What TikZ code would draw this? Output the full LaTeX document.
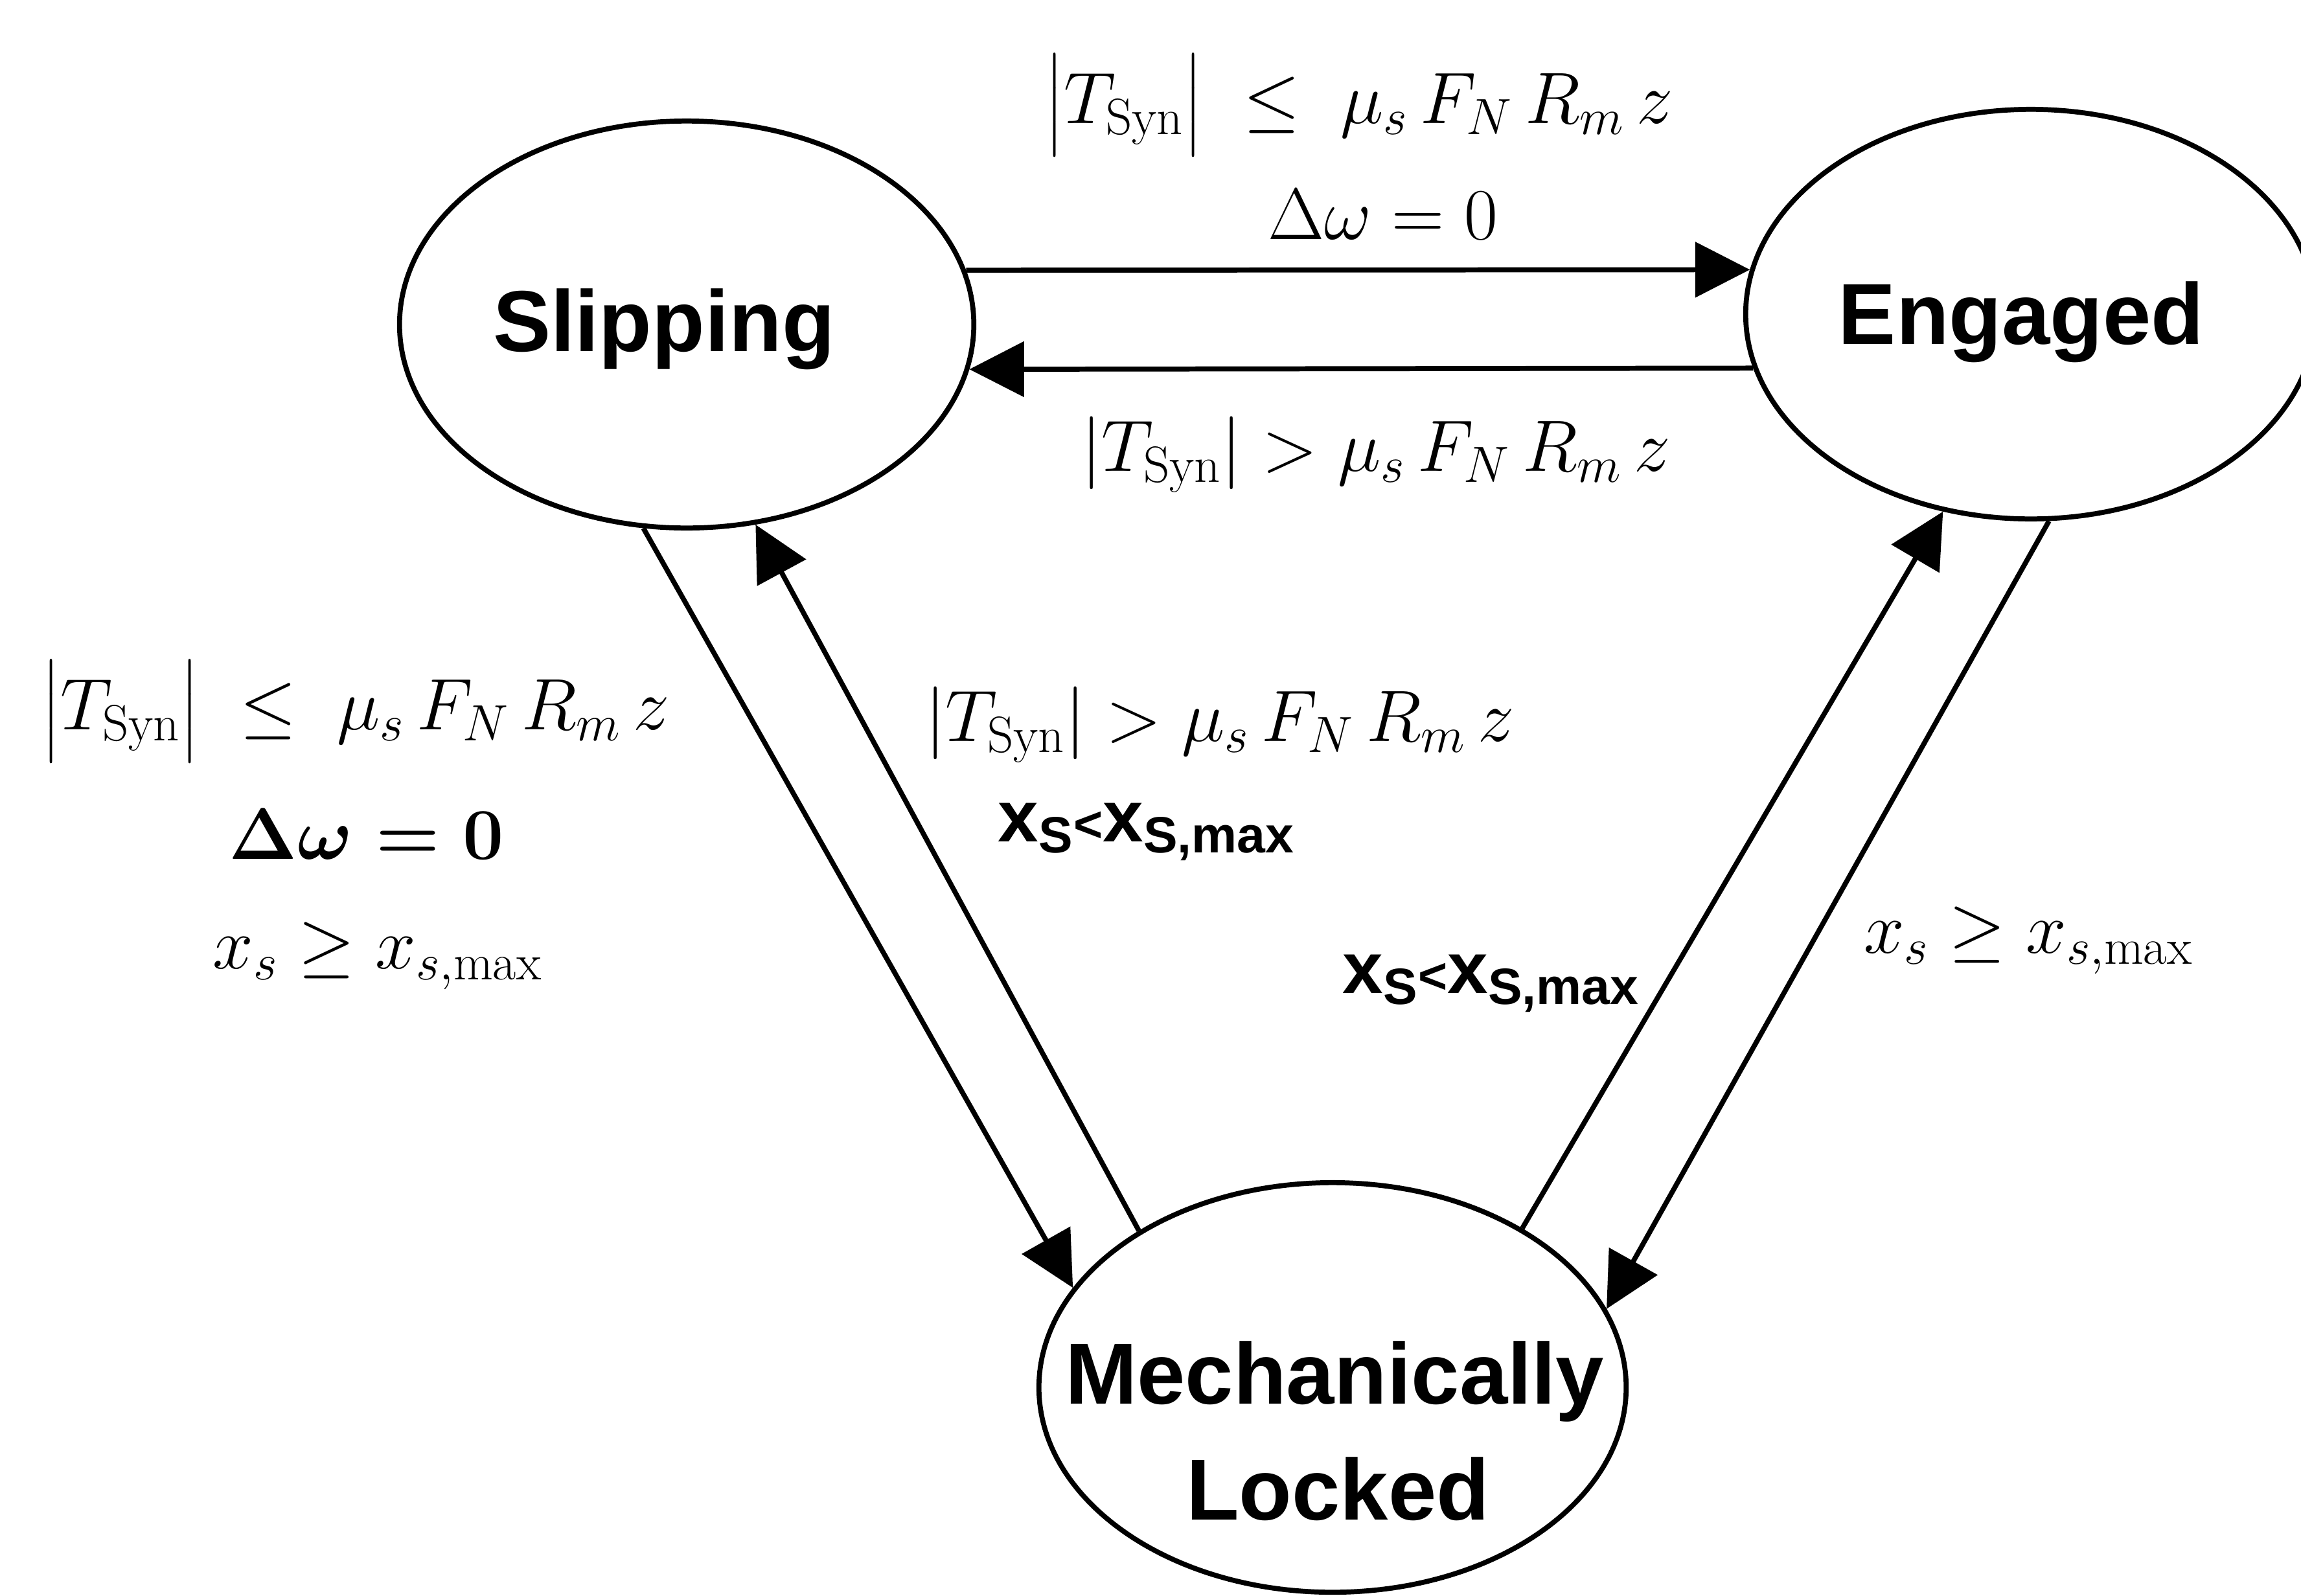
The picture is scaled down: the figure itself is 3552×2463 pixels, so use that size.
\RequirePackage{fix-cm}
\documentclass[tikz,border=0pt]{standalone}
\usepackage{amsmath}
\usepackage{fontspec}
\newfontfamily\lsans{Liberation Sans}
\usetikzlibrary{arrows.meta,shapes.geometric}
\tikzset{
  state/.style={draw, ellipse, line width=2.2pt, inner sep=0pt},
  statetext/.style={font=\lsans\bfseries\fontsize{38}{51}\selectfont, inner sep=0pt, anchor=base},
  cond/.style={font=\fontsize{32}{38}\selectfont, inner sep=0pt},
  condsans/.style={font=\lsans\bfseries\fontsize{32}{38}\selectfont, inner sep=0pt},
  arr/.style={line width=2.2pt, -{Triangle[length=24pt,width=24pt]}},
}
\newcommand{\xsless}{x\textsubscript{S}{\fontsize{22}{26}\selectfont\raisebox{0pt}{<}}x\textsubscript{S,max}}
\begin{document}
\begin{tikzpicture}[x=0.01cm,y=-0.01cm]
\useasboundingbox (0,0) rectangle (3552,2463);
% states
\node[state, minimum width=8.86cm, minimum height=6.28cm] (S) at (1060,501) {};
\node[state, minimum width=8.80cm, minimum height=6.32cm] (E) at (3135,485) {};
\node[state, minimum width=9.06cm, minimum height=6.32cm] (M) at (2057,2142) {};
\node[statetext] (St) at (1025,542) {Slipping};
\node[statetext] (Et) at (3120,531) {Engaged};
\node[statetext] (Mt1) at (2060,2167) {Mechanically};
\node[statetext] (Mt2) at (2065,2346) {Locked};
% transitions
\draw[arr] (S.11.1) -- (E.171);
\draw[arr] (E.191.3) -- (S.-9.1);
\draw[arr] (S.-102.2) -- (M.159.9);
\draw[arr] (M.141.2) -- (S.-71.9);
\draw[arr] (M.40.3) -- (E.246.4);
\draw[arr] (E.-85.8) -- (M.16.5);
% conditions
\node[cond] (t1) at (2098,162) {$\big|T_{\mathrm{Syn}}\big|\;\le\;\mu_s\,F_N\,R_m\,z$};
\node[cond] (t2) at (2135,331) {$\Delta\omega=0$};
\node[cond] (b1) at (2124,702) {$\left|T_{\mathrm{Syn}}\right|>\mu_s\,F_N\,R_m\,z$};
\node[cond] (l1) at (549,1098) {$\big|T_{\mathrm{Syn}}\big|\;\le\;\mu_s\,F_N\,R_m\,z$};
\node[cond] (l2) at (566,1288) {$\boldsymbol{\Delta\omega=0}$};
\node[cond] (l3) at (583,1476) {$x_s\geq x_{s,\max}$};
\node[cond] (m1) at (1883,1119) {$\left|T_{\mathrm{Syn}}\right|>\mu_s\,F_N\,R_m\,z$};
\node[condsans] (m2) at (1770,1284) {\xsless};
\node[condsans] (r2) at (2302,1518) {\xsless};
\node[cond] (r1) at (3131,1452) {$x_s\geq x_{s,\max}$};
\end{tikzpicture}
\end{document}
